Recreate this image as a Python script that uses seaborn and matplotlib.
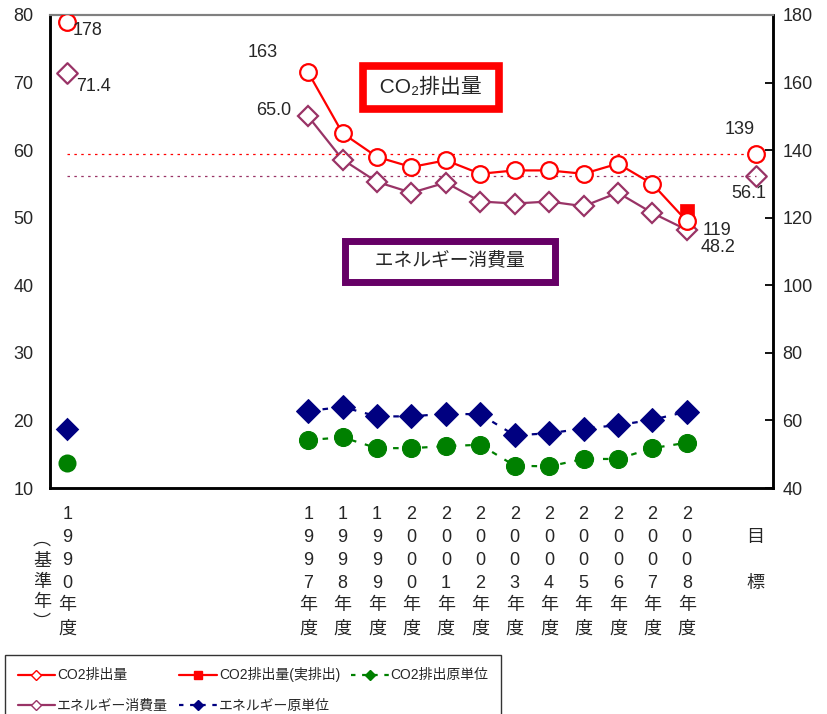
import numpy as np
import pandas as pd
import seaborn as sns
import matplotlib.pyplot as plt
from matplotlib.lines import Line2D

nan = np.nan

# 21 categories: 1990, six blank years, 1997-2008, blank, target
year_labels = ['1\n9\n9\n0\n年\n度', '', '', '', '', '', '',
               '1\n9\n9\n7\n年\n度', '1\n9\n9\n8\n年\n度', '1\n9\n9\n9\n年\n度',
               '2\n0\n0\n0\n年\n度', '2\n0\n0\n1\n年\n度', '2\n0\n0\n2\n年\n度',
               '2\n0\n0\n3\n年\n度', '2\n0\n0\n4\n年\n度', '2\n0\n0\n5\n年\n度',
               '2\n0\n0\n6\n年\n度', '2\n0\n0\n7\n年\n度', '2\n0\n0\n8\n年\n度',
               '', '\n目\n\n標']

co2 = [178, nan, nan, nan, nan, nan, nan,
       163, 145, 138, 135, 137, 133, 134, 134, 133, 136, 130, 119, nan, 139]
co2_actual = [nan, nan, nan, nan, nan, nan, nan,
              nan, nan, nan, nan, nan, nan, nan, nan, nan, nan, nan, 122, nan, nan]
energy = [71.4, nan, nan, nan, nan, nan, nan,
          65.0, 58.6, 55.3, 53.7, 55.2, 52.4, 52.1, 52.4, 51.7, 53.7, 50.7, 48.2, nan, 56.1]
energy_int = [18.7, nan, nan, nan, nan, nan, nan,
              21.4, 22.0, 20.6, 20.6, 21.0, 20.9, 17.8, 18.1, 18.8, 19.3, 20.1, 21.3, nan, nan]
co2_int = [13.7, nan, nan, nan, nan, nan, nan,
           17.1, 17.5, 15.9, 15.9, 16.2, 16.4, 13.3, 13.2, 14.3, 14.3, 15.9, 16.7, nan, nan]

df = pd.DataFrame({'pos': np.arange(len(year_labels)), 'co2': co2, 'co2_actual': co2_actual,
                   'energy': energy, 'energy_int': energy_int, 'co2_int': co2_int})
line_part = df.iloc[7:19]          # 1997-2008 connected
lone_part = df.iloc[[0, 20]]       # base year and target

sns.set_style('white')
plt.rcParams['font.family'] = ['Liberation Sans', 'Noto Sans CJK JP', 'DejaVu Sans']

RED = '#ff0000'
PURPLE = '#993366'
NAVY = '#000080'
GREEN = '#008000'
FS = 13

fig = plt.figure(figsize=(8.27, 7.14), dpi=100)
ax = fig.add_axes([0.0605, 0.3165, 0.874, 0.6625])
ax2 = ax.twinx()

# left axis series
sns.lineplot(data=line_part, x='pos', y='co2_int', ax=ax, color=GREEN, lw=1.6,
             linestyle=(0, (2.5, 4)), marker='o', markersize=13, markeredgecolor=GREEN,
             markerfacecolor=GREEN, errorbar=None)
sns.scatterplot(data=lone_part, x='pos', y='co2_int', ax=ax, color=GREEN, s=169, linewidth=0)
sns.lineplot(data=line_part, x='pos', y='energy_int', ax=ax, color=NAVY, lw=1.6,
             linestyle=(0, (2.5, 4)), marker='D', markersize=12, markeredgecolor=NAVY,
             markerfacecolor=NAVY, errorbar=None)
sns.scatterplot(data=lone_part, x='pos', y='energy_int', ax=ax, color=NAVY, marker='D',
                s=144, linewidth=0)
ax.hlines(energy[-1], 0, len(year_labels) - 1, colors=PURPLE, lw=0.9, linestyles=(0, (2, 3.5)))
sns.lineplot(data=line_part, x='pos', y='energy', ax=ax, color=PURPLE, lw=1.6,
             marker='D', markersize=10.5, markeredgecolor=PURPLE, markerfacecolor='white',
             markeredgewidth=1.6, errorbar=None)
sns.scatterplot(data=lone_part, x='pos', y='energy', ax=ax, marker='D', s=110,
                facecolor='white', edgecolor=PURPLE, linewidth=1.6)

# right axis series
ax2.hlines(co2[-1], 0, len(year_labels) - 1, colors=RED, lw=0.9, linestyles=(0, (2, 3.5)))
sns.scatterplot(data=df, x='pos', y='co2_actual', ax=ax2, marker='s', s=90,
                color=RED, edgecolor=RED, linewidth=0.5, zorder=2)
sns.lineplot(data=line_part, x='pos', y='co2', ax=ax2, color=RED, lw=1.6,
             marker='o', markersize=12, markeredgecolor=RED, markerfacecolor='white',
             markeredgewidth=1.6, errorbar=None, zorder=3)
sns.scatterplot(data=lone_part, x='pos', y='co2', ax=ax2, marker='o', s=144,
                facecolor='white', edgecolor=RED, linewidth=1.6, zorder=3)

# data labels
def label(axis, i, vals, text, dx, dy, ha):
    axis.annotate(text, (i, vals[i]), xytext=(dx, dy), textcoords='offset points',
                  ha=ha, va='center', fontsize=FS)

label(ax2, 0, co2, '178', 4, -6, 'left')
label(ax, 0, energy, '71.4', 6.5, -10, 'left')
label(ax2, 7, co2, '163', -33, 14, 'center')
label(ax, 7, energy, '65.0', -12, 4, 'right')
label(ax2, 20, co2, '139', -11.5, 17, 'center')
label(ax, 20, energy, '56.1', -5, -12, 'center')
label(ax2, 18, co2, '119', 11.5, -7, 'left')
label(ax, 18, energy, '48.2', 10, -13, 'left')

# boxed captions
fig.text(431 / 827, 1 - 87.5 / 714, ' CO₂排出量 ', ha='center', va='center', fontsize=15,
         bbox=dict(boxstyle='square,pad=0.55', fc='white', ec=RED, lw=5.5))
fig.text(450 / 827, 1 - 261.5 / 714, '\u3000エネルギー消費量\u3000', ha='center', va='center',
         fontsize=13.5,
         bbox=dict(boxstyle='square,pad=0.6', fc='white', ec='#660066', lw=5))

# axes
ax.set_xlim(-0.5, len(year_labels) - 0.5)
ax.set_ylim(10, 80)
ax2.set_ylim(40, 180)
ax.set_yticks(np.arange(10, 81, 10))
ax2.set_yticks(np.arange(40, 181, 20))
ax.set_xticks(df['pos'])
ax.set_xticklabels(year_labels, linespacing=1.45)
ax.set_xticks(df['pos'][:-1] + 0.5, minor=True)
ax.tick_params(axis='x', which='major', length=0, pad=13, labelsize=FS)
ax.tick_params(axis='x', which='minor', direction='in', length=6, width=1.3, color='black')
ax.tick_params(axis='y', length=0, pad=12, labelsize=FS)
ax2.tick_params(axis='y', direction='in', length=6, width=1.3, color='black', pad=7,
                labelsize=FS)
for a in (ax, ax2):
    a.set_xlabel('')
    a.set_ylabel('')
    for s in ('left', 'bottom', 'right'):
        a.spines[s].set_color('black')
        a.spines[s].set_linewidth(1.8)
    a.spines['top'].set_color('#808080')
    a.spines['top'].set_linewidth(1.5)

fig.text(42 / 827, 1 - 582 / 714, '︵\n基\n準\n年\n︶', ha='center', va='center',
         fontsize=FS, linespacing=1.3)

# legend
handles = [
    Line2D([], [], color=RED, lw=1.6, marker='D', markersize=5, markerfacecolor='white'),
    Line2D([], [], color=PURPLE, lw=1.6, marker='D', markersize=5, markerfacecolor='white'),
    Line2D([], [], color=RED, lw=1.6, marker='s', markersize=6),
    Line2D([], [], color=NAVY, lw=1.6, linestyle=(0, (2, 3)), marker='D', markersize=5),
    Line2D([], [], color=GREEN, lw=1.6, linestyle=(0, (2, 3)), marker='D', markersize=5),
]
names = ['CO2排出量', 'エネルギー消費量', 'CO2排出量(実排出)', 'エネルギー原単位', 'CO2排出原単位']
fig.legend(handles, names, ncol=3, loc='upper left', bbox_to_anchor=(5 / 827, 1 - 655 / 714),
           bbox_transform=fig.transFigure, borderaxespad=0, frameon=True, fancybox=False,
           edgecolor='black', fontsize=10, handlelength=2.7, handletextpad=0.15,
           columnspacing=0.8, labelspacing=1.2, borderpad=0.9)

fig.savefig('out.png', dpi=100)
